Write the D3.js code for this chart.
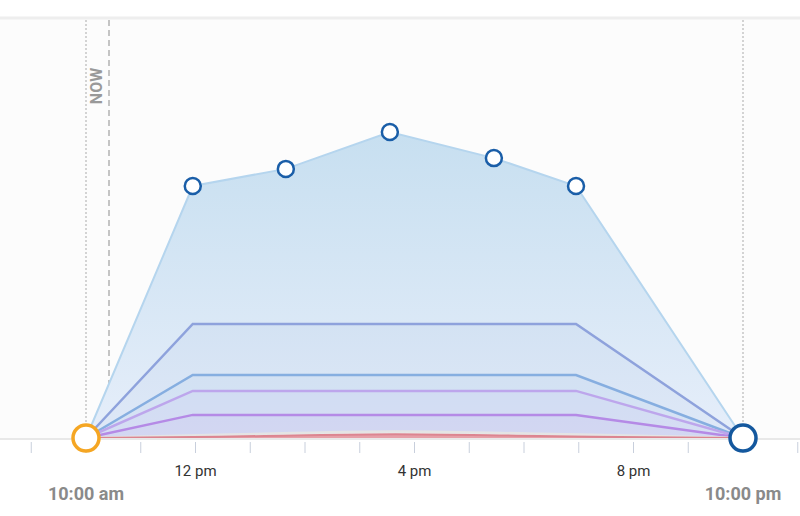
<!DOCTYPE html>
<html><head><meta charset="utf-8">
<script src="https://cdn.jsdelivr.net/npm/d3@7"></script>
<style>body{margin:0;background:#fff;font-family:Roboto,sans-serif}</style>
</head><body><svg id="c" width="800" height="516"></svg>
<script>
// hours since midnight
var mainHours = [10, 11.95, 13.65, 15.55, 17.45, 18.95, 22];
var mainValues = [0, 84, 89.7, 102, 93.3, 84, 0];
var flatHours = [10, 11.95, 18.95, 22];
var flatSeries = [
  {v: 38, color: '#8ea2dc'},
  {v: 21, color: '#86aee0'},
  {v: 15.7, color: '#bda6ec'},
  {v: 7.7, color: '#b58ae6'}
];
var bumpHours = [10, 13.5, 15.6, 18, 22];
var grayBump = [0, 1.5, 2.5, 1.5, 0];
var redBump = [0, 0.6, 1.6, 0.6, 0];
var tickHours = d3.range(9, 24);
var labelHours = [12, 16, 20];
var nowHour = 10.42;

var svg = d3.select('#c');
var x = d3.scaleLinear().domain([10, 22]).range([86, 743]);
var y = d3.scaleLinear().domain([0, 100]).range([438, 138]);

svg.append('rect').attr('width', 800).attr('height', 516).attr('fill', '#fff');
svg.append('rect').attr('y', 18).attr('width', 800).attr('height', 420).attr('fill', '#fcfcfc');
svg.append('line').attr('x1', 0).attr('x2', 800).attr('y1', 18).attr('y2', 18)
  .attr('stroke', '#eeeeee').attr('stroke-width', 3);

var defs = svg.append('defs');
var g = defs.append('linearGradient').attr('id', 'gr').attr('x1', 0).attr('x2', 0).attr('y1', 0).attr('y2', 1);
g.append('stop').attr('offset', '0%').attr('stop-color', '#c7dff0');
g.append('stop').attr('offset', '100%').attr('stop-color', '#e6eefa');

// boundary lines
[10, 22].forEach(function(h){
  svg.append('line').attr('x1', x(h)).attr('x2', x(h)).attr('y1', 20).attr('y2', 438)
    .attr('stroke', '#aaa').attr('stroke-dasharray', '2,2').attr('stroke-width', 1);
});
svg.append('line').attr('x1', x(nowHour)).attr('x2', x(nowHour)).attr('y1', 20).attr('y2', 438)
  .attr('stroke', '#c4c4c4').attr('stroke-dasharray', '6,4').attr('stroke-width', 2);
svg.append('text').attr('transform', 'translate(' + (x(nowHour) - 7) + ',86) rotate(-90)')
  .attr('text-anchor', 'middle').attr('fill', '#999').attr('font-weight', 'bold')
  .attr('font-size', 16).text('NOW');

var area = d3.area().x(function(d, i){ return x(mainHours[i]); }).y0(y(0)).y1(function(d){ return y(d); });
var line = d3.line().x(function(d, i){ return x(mainHours[i]); }).y(function(d){ return y(d); });
svg.append('path').attr('d', area(mainValues)).attr('fill', 'url(#gr)');
svg.append('path').attr('d', line(mainValues)).attr('fill', 'none').attr('stroke', '#b5d5ee').attr('stroke-width', 2);

flatSeries.forEach(function(s){
  var vals = [0, s.v, s.v, 0];
  svg.append('path').attr('d', d3.area().x(function(d, i){ return x(flatHours[i]); }).y0(y(0)).y1(function(d){ return y(d); })(vals))
    .attr('fill', s.color).attr('fill-opacity', 0.08);
  svg.append('path').attr('d', d3.line().x(function(d, i){ return x(flatHours[i]); }).y(function(d){ return y(d); })(vals))
    .attr('fill', 'none').attr('stroke', s.color).attr('stroke-width', 2.5);
});

var bumpLine = d3.line().x(function(d, i){ return x(bumpHours[i]); }).y(function(d){ return y(d); }).curve(d3.curveBasis);
svg.append('path').attr('d', bumpLine(grayBump)).attr('fill', '#eee').attr('stroke', '#e4e4e4').attr('stroke-width', 2.5);
svg.append('path').attr('d', bumpLine(redBump)).attr('fill', '#e6a0a8').attr('stroke', '#dc8590').attr('stroke-width', 2);

// axis
svg.append('line').attr('x1', 0).attr('x2', 800).attr('y1', 439).attr('y2', 439).attr('stroke', '#e8e8e8').attr('stroke-width', 2);
svg.selectAll('.tk').data(tickHours).enter().append('line')
  .attr('x1', function(d){ return x(d); }).attr('x2', function(d){ return x(d); })
  .attr('y1', 442).attr('y2', 453).attr('stroke', '#c8cfdc').attr('stroke-width', 1);
svg.selectAll('.lb').data(labelHours).enter().append('text')
  .attr('x', function(d){ return x(d); }).attr('y', 476).attr('text-anchor', 'middle')
  .attr('font-size', 15).attr('fill', '#333')
  .text(function(d){ return (d > 12 ? d - 12 : d) + ' pm'; });
svg.append('text').attr('x', x(10)).attr('y', 500).attr('text-anchor', 'middle')
  .attr('font-size', 18).attr('font-weight', 'bold').attr('fill', '#8a8a8a').text('10:00 am');
svg.append('text').attr('x', x(22)).attr('y', 500).attr('text-anchor', 'middle')
  .attr('font-size', 18).attr('font-weight', 'bold').attr('fill', '#8a8a8a').text('10:00 pm');

// points
svg.selectAll('.pt').data(mainValues.slice(1, -1)).enter().append('circle')
  .attr('cx', function(d, i){ return x(mainHours[i + 1]); }).attr('cy', function(d){ return y(d); })
  .attr('r', 8).attr('fill', '#fff').attr('stroke', '#1a5ea8').attr('stroke-width', 2.5);
svg.append('circle').attr('cx', x(10)).attr('cy', y(0)).attr('r', 13)
  .attr('fill', '#fff').attr('stroke', '#f5a623').attr('stroke-width', 3.5);
svg.append('circle').attr('cx', x(22)).attr('cy', y(0)).attr('r', 13)
  .attr('fill', '#fff').attr('stroke', '#14589e').attr('stroke-width', 3.5);
</script></body></html>
